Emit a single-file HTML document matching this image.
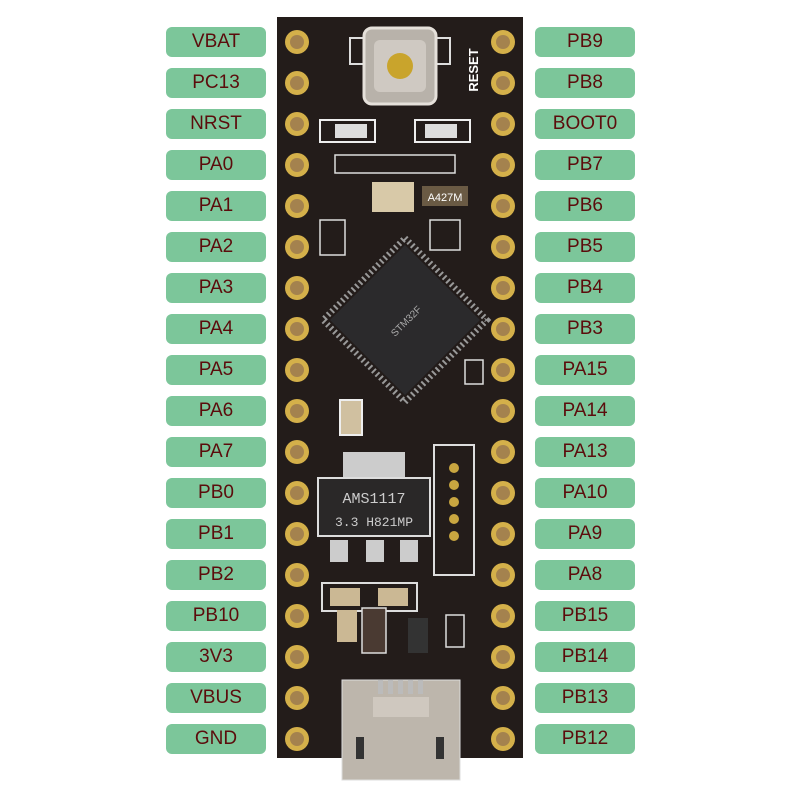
<!DOCTYPE html>
<html><head><style>
body{margin:0;background:#fff;width:800px;height:800px;overflow:hidden}
.l{position:absolute;width:100px;height:30px;background:#7cc69a;border-radius:6px;color:#5b0c0c;font:19px "Liberation Sans",sans-serif;text-align:center;line-height:30px}
</style></head><body>
<svg width="800" height="800" style="position:absolute;left:0;top:0">
<rect x="277" y="17" width="246" height="741" fill="#231c1a"/>
<g id="pins"></g>
<!-- reset button -->
<rect x="350" y="38" width="100" height="26" fill="none" stroke="#ddd" stroke-width="2"/>
<rect x="364" y="28" width="72" height="76" rx="8" fill="#b8b2aa" stroke="#e5e0da" stroke-width="3"/>
<rect x="374" y="40" width="52" height="52" rx="6" fill="#cfc9c2"/>
<circle cx="400" cy="66" r="13" fill="#c9a42c"/>
<text x="478" y="70" transform="rotate(-90 478 70)" fill="#fff" font-family="Liberation Sans" font-weight="bold" font-size="13" text-anchor="middle">RESET</text>
<!-- leds -->
<rect x="320" y="120" width="55" height="22" fill="none" stroke="#eee" stroke-width="2"/>
<rect x="335" y="124" width="32" height="14" fill="#ddd"/>
<rect x="415" y="120" width="55" height="22" fill="none" stroke="#eee" stroke-width="2"/>
<rect x="425" y="124" width="32" height="14" fill="#ddd"/>
<rect x="372" y="182" width="42" height="30" fill="#d8c9a8"/>
<rect x="422" y="186" width="46" height="20" fill="#6a5a44"/>
<text x="445" y="201" fill="#fff" font-size="11" font-family="Liberation Sans" text-anchor="middle">A427M</text>
<rect x="335" y="155" width="120" height="18" fill="none" stroke="#ddd" stroke-width="1.5"/>
<rect x="320" y="220" width="25" height="35" fill="none" stroke="#ddd" stroke-width="1.5"/>
<rect x="430" y="220" width="30" height="30" fill="none" stroke="#ddd" stroke-width="1.5"/>
<!-- MCU -->
<g transform="rotate(45 405 320)">
<rect x="347" y="262" width="116" height="116" fill="none" stroke="#999" stroke-width="6" stroke-dasharray="2 3"/>
<rect x="352" y="267" width="106" height="106" fill="#2b2a2c"/>
</g>
<text x="405" y="325" fill="#aaa" font-size="10" font-family="Liberation Sans" text-anchor="middle" transform="rotate(-45 405 320)">STM32F</text>
<rect x="340" y="400" width="22" height="35" fill="#d0c0a0" stroke="#eee" stroke-width="2"/>
<rect x="465" y="360" width="18" height="24" fill="none" stroke="#ddd" stroke-width="1.5"/>
<!-- regulator -->
<rect x="343" y="452" width="62" height="28" fill="#ccc"/>
<rect x="318" y="478" width="112" height="58" fill="#2a2828" stroke="#ddd" stroke-width="2"/>
<text x="374" y="503" fill="#ccc" font-size="15" font-family="Liberation Mono" text-anchor="middle">AMS1117</text>
<text x="374" y="526" fill="#ccc" font-size="13" font-family="Liberation Mono" text-anchor="middle">3.3 H821MP</text>
<rect x="330" y="540" width="18" height="22" fill="#ccc"/><rect x="366" y="540" width="18" height="22" fill="#ccc"/><rect x="400" y="540" width="18" height="22" fill="#ccc"/>
<rect x="434" y="445" width="40" height="130" fill="none" stroke="#ddd" stroke-width="2"/>
<g fill="#c9a640"><circle cx="454" cy="468" r="5"/><circle cx="454" cy="485" r="5"/><circle cx="454" cy="502" r="5"/><circle cx="454" cy="519" r="5"/><circle cx="454" cy="536" r="5"/></g>
<rect x="322" y="583" width="95" height="28" fill="none" stroke="#ddd" stroke-width="2"/>
<rect x="330" y="588" width="30" height="18" fill="#cbb894"/><rect x="378" y="588" width="30" height="18" fill="#cbb894"/>
<rect x="337" y="610" width="20" height="32" fill="#cbb894"/>
<rect x="362" y="608" width="24" height="45" fill="#4a3a32" stroke="#ddd" stroke-width="1.5"/>
<rect x="408" y="618" width="20" height="35" fill="#333"/>
<rect x="446" y="615" width="18" height="32" fill="none" stroke="#ddd" stroke-width="1.5"/>
<!-- usb -->
<rect x="342" y="680" width="118" height="100" fill="#bdb6ac" stroke="#ddd" stroke-width="1"/>
<rect x="373" y="697" width="56" height="20" fill="#cfc8bf"/>
<rect x="356" y="737" width="8" height="22" fill="#333"/><rect x="436" y="737" width="8" height="22" fill="#333"/>
<g fill="#bbb"><rect x="378" y="680" width="5" height="14"/><rect x="388" y="680" width="5" height="14"/><rect x="398" y="680" width="5" height="14"/><rect x="408" y="680" width="5" height="14"/><rect x="418" y="680" width="5" height="14"/></g>
</svg>
<div id="c"></div>
<script>
var L=["VBAT","PC13","NRST","PA0","PA1","PA2","PA3","PA4","PA5","PA6","PA7","PB0","PB1","PB2","PB10","3V3","VBUS","GND"],
R=["PB9","PB8","BOOT0","PB7","PB6","PB5","PB4","PB3","PA15","PA14","PA13","PA10","PA9","PA8","PB15","PB14","PB13","PB12"];
var h="",p="";
for(var i=0;i<18;i++){var y=42+41*i;
h+='<div class="l" style="left:166px;top:'+(y-15)+'px">'+L[i]+'</div><div class="l" style="left:535px;top:'+(y-15)+'px">'+R[i]+'</div>';
[297,503].forEach(function(x){p+='<circle cx="'+x+'" cy="'+y+'" r="12" fill="#d4b04a"/><circle cx="'+x+'" cy="'+y+'" r="7" fill="#a4824e"/>';});}
document.getElementById("c").innerHTML=h;
document.getElementById("pins").innerHTML=p;
</script>
</body></html>
